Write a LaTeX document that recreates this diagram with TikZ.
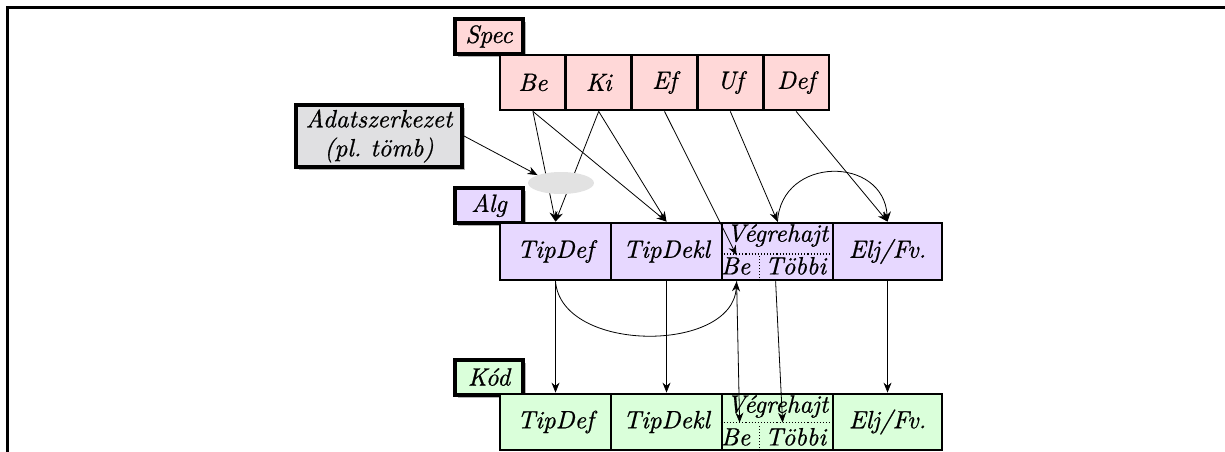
\documentclass[tikz,border=0pt]{standalone}
\usepackage{fontspec}
\setmainfont{lmroman10-regular.otf}[ItalicFont=lmroman10-italic.otf, ItalicFeatures={FakeBold=0.7}]
\usetikzlibrary{arrows.meta,shadows,calc,shapes.geometric}
\definecolor{specc}{RGB}{255,216,216}
\definecolor{algc}{RGB}{231,216,255}
\definecolor{kodc}{RGB}{218,255,218}
\definecolor{adatc}{RGB}{224,224,226}
\definecolor{ellc}{RGB}{226,226,226}
\begin{document}
\begin{tikzpicture}[x=1pt,y=-1pt,
  font=\fontsize{25}{29}\selectfont\itshape,
  lbl/.style={draw, line width=4pt, minimum width=68pt, minimum height=35pt, inner sep=0pt,
    drop shadow={shadow xshift=3pt,shadow yshift=-3pt,fill=black!60}},
  cell/.style={draw, line width=2.8pt, inner sep=0pt},
  scell/.style={cell, fill=specc, minimum width=65.8pt, minimum height=55pt},
  acell/.style={cell, fill=algc, minimum width=111pt, minimum height=57pt},
  kcell/.style={cell, fill=kodc, minimum width=111pt, minimum height=56pt},
  arr/.style={-{Stealth[length=10pt,width=8pt]}, line width=0.8pt},
  dotline/.style={dotted, line width=1.1pt}
]
\useasboundingbox (0,0) rectangle (1225,452);
% frame
\draw[line width=3pt] (7,452) -- (7,8) -- (1225,8);

% Spec
\node[lbl, fill=specc] (spec) at (489,36.5) {Spec};
\node[scell] (be)  at (532.9,82.5) {Be};
\node[scell] (ki)  at (598.7,82.5) {Ki};
\node[scell] (ef)  at (664.5,82.5) {Ef};
\node[scell] (uf)  at (730.3,82.5) {Uf};
\node[scell] (def) at (796.1,82.5) {Def};

% Adatszerkezet
\node[lbl, fill=adatc, minimum width=166pt, minimum height=62pt, align=center] (adat) at (379,136) {Adatszerkezet\\(pl.\ tömb)};

% Alg
\node[lbl, fill=algc] (alg) at (489,205.5) {Alg};
\node[acell] (adef)  at (555.5,251.5) {TipDef};
\node[acell] (adekl) at (666.5,251.5) {TipDekl};
\node[acell] (av)    at (777.5,251.5) {};
\node[acell, minimum width=109pt] (aelj) at (887.5,251.5) {Elj/Fv.};
\node[anchor=base] (avt) at ($(av.north)+(0,20)$) {Végrehajt};
\node[anchor=base] (avb) at ($(av.south west)+(15,-7)$) {Be};
\node[anchor=base] (avo) at ($(av.south west)+(75,-7)$) {Többi};
\draw[dotline] ($(av.west)+(0,2.5)$) -- ($(av.east)+(0,2.5)$);
\draw[dotline] ($(av.south west)+(39,0)$) -- ($(av.south west)+(39,-26)$);

% Kod
\node[lbl, fill=kodc] (kod) at (489,377) {Kód};
\node[kcell] (kdef)  at (555.5,422) {TipDef};
\node[kcell] (kdekl) at (666.5,422) {TipDekl};
\node[kcell] (kv)    at (777.5,422) {};
\node[kcell, minimum width=109pt] (kelj) at (887.5,422) {Elj/Fv.};
\node[anchor=base] (kvt) at ($(kv.north)+(0,20)$) {Végrehajt};
\node[anchor=base] (kvb) at ($(kv.south west)+(15,-6)$) {Be};
\node[anchor=base] (kvo) at ($(kv.south west)+(75,-6)$) {Többi};
\draw[dotline] ($(kv.north west)+(0,30)$) -- ($(kv.north east)+(0,30)$);
\draw[dotline] ($(kv.south west)+(39,0)$) -- ($(kv.south west)+(39,-26)$);

% coordinates
\coordinate (aBeTop) at ($(av.south west)+(16,-26)$);
\coordinate (aBeBot) at ($(av.south west)+(16,0)$);
\coordinate (aToBot) at ($(av.south west)+(55,0)$);
\coordinate (kBeTop) at ($(kv.north west)+(19,30)$);
\coordinate (kToTop) at ($(kv.north west)+(62,30)$);

% connectors from Spec
\draw[arr] (be.south) -- (adef.north);
\draw[arr] (ki.south) -- (adef.north);
\draw[arr] (be.south) -- (adekl.north);
\draw[arr] (ki.south) -- (adekl.north);
\draw[arr] (ef.south) -- (aBeTop);
\draw[arr] (uf.south) -- (av.north);
\draw[arr] (def.south) -- (aelj.north);
\draw[arr] (av.north) .. controls +(4,-66) and +(-4,-66) .. (aelj.north);

% ellipse on top
\node[ellipse, fill=ellc, minimum width=66pt, minimum height=22pt, inner sep=0pt] (ell) at (561,183) {};
\draw[arr] (adat.east) -- (ell.north west);

% Alg -> Kod
\draw[arr] (adef.south) .. controls +(6,72) and +(-4,72) .. (aBeBot);
\draw[arr] (adef.south) -- (kdef.north);
\draw[arr] (adekl.south) -- (kdekl.north);
\draw[arr] (aBeBot) -- (kBeTop);
\draw[arr] (aToBot) -- (kToTop);
\draw[arr] (aelj.south) -- (kelj.north);
\end{tikzpicture}
\end{document}
